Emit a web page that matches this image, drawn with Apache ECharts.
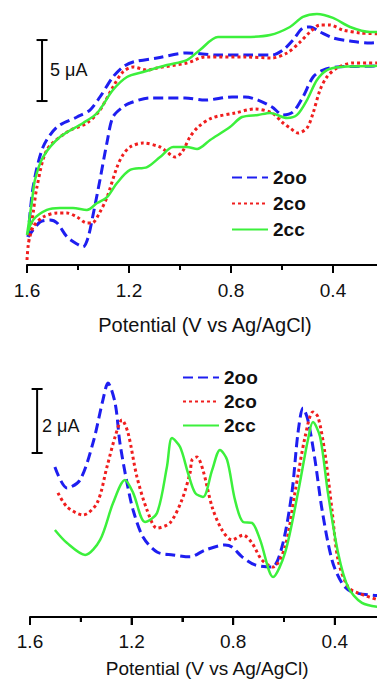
<!DOCTYPE html>
<html>
<head>
<meta charset="utf-8">
<script src="https://cdn.jsdelivr.net/npm/echarts@6/dist/echarts.min.js"></script>
<style>
  html, body { margin: 0; padding: 0; background: #fff; }
  #main { width: 377px; height: 682px; }
</style>
</head>
<body>
<div id="main"></div>
<script>
// potential (V vs Ag/AgCl), current (uA)
const seriesNames = ['2oo', '2co', '2cc']
const tickLabels = [1.6, 1.2, 0.8, 0.4]
const minorTicks = [1.4, 1.0, 0.6]

// cyclic voltammograms: forward branch then return branch
const cv2oo = [
  [1.596, 2.30], [1.576, 6.39], [1.537, 9.67], [1.482, 11.31], [1.404, 12.13], [1.353, 12.70],
  [1.314, 13.77], [1.263, 15.41], [1.224, 16.23], [1.184, 16.64], [1.090, 16.97], [0.973, 17.38],
  [0.851, 17.21], [0.745, 17.21], [0.639, 17.21], [0.596, 17.62], [0.557, 18.44], [0.518, 19.43],
  [0.490, 19.51], [0.451, 19.10], [0.400, 18.61], [0.333, 18.36], [0.255, 18.20], [0.215, 18.28],
  [0.215, 16.39], [0.384, 16.23], [0.439, 15.98], [0.478, 15.41], [0.518, 13.77], [0.557, 12.54],
  [0.596, 12.30], [0.639, 12.95], [0.694, 13.52], [0.745, 13.77], [0.796, 13.77], [0.902, 13.52],
  [0.980, 13.69], [1.118, 13.69], [1.196, 13.28], [1.224, 12.95], [1.263, 12.13], [1.286, 10.08],
  [1.314, 6.97], [1.341, 4.10], [1.361, 2.21], [1.380, 1.48], [1.404, 1.72], [1.443, 2.30],
  [1.482, 3.44], [1.510, 3.69], [1.549, 3.52], [1.596, 2.30]
]
const cv2co = [
  [1.600, 0.41], [1.596, 1.48], [1.588, 2.62], [1.576, 4.26], [1.561, 6.39], [1.522, 9.43],
  [1.443, 10.90], [1.365, 11.64], [1.314, 12.70], [1.263, 14.59], [1.224, 15.82], [1.184, 16.23],
  [1.129, 15.98], [1.090, 16.15], [0.973, 16.56], [0.902, 17.05], [0.745, 17.05], [0.639, 16.97],
  [0.580, 17.38], [0.529, 18.28], [0.490, 19.10], [0.451, 19.67], [0.412, 19.67], [0.361, 19.26],
  [0.294, 19.02], [0.215, 18.85],
  [0.215, 16.56], [0.322, 16.56], [0.384, 16.15], [0.424, 15.41], [0.451, 14.34], [0.478, 12.46],
  [0.502, 11.23], [0.537, 10.82], [0.569, 11.23], [0.596, 11.64], [0.639, 12.46], [0.706, 12.79],
  [0.784, 12.46], [0.875, 12.05], [0.929, 11.31], [0.961, 10.49], [0.992, 9.26], [1.020, 8.85],
  [1.051, 9.26], [1.078, 9.67], [1.145, 10.00], [1.196, 9.67], [1.224, 9.02], [1.247, 8.03],
  [1.286, 5.57], [1.314, 4.34], [1.345, 3.44], [1.365, 3.44], [1.404, 3.93], [1.443, 4.26],
  [1.482, 4.26], [1.537, 3.93], [1.576, 3.11], [1.596, 1.64]
]
const cv2cc = [
  [1.600, 2.46], [1.580, 5.33], [1.569, 6.97], [1.537, 8.85], [1.471, 10.49], [1.380, 11.64],
  [1.325, 12.46], [1.263, 14.34], [1.208, 15.41], [1.145, 15.82], [1.051, 16.39], [0.973, 16.80],
  [0.922, 17.62], [0.851, 18.69], [0.745, 18.69], [0.647, 18.85], [0.569, 19.51], [0.518, 20.33],
  [0.463, 20.57], [0.400, 20.25], [0.333, 19.51], [0.255, 19.10], [0.215, 19.10],
  [0.215, 16.39], [0.373, 16.23], [0.424, 15.98], [0.463, 15.16], [0.502, 13.52], [0.541, 12.30],
  [0.580, 12.05], [0.647, 12.46], [0.694, 12.30], [0.757, 12.13], [0.804, 11.31], [0.882, 10.25],
  [0.933, 9.51], [0.973, 9.67], [1.027, 9.67], [1.078, 8.85], [1.129, 8.03], [1.196, 7.79],
  [1.247, 6.72], [1.286, 5.57], [1.325, 5.08], [1.365, 4.51], [1.420, 4.67], [1.471, 4.67],
  [1.522, 4.51], [1.576, 3.69], [1.600, 2.46]
]

// differential pulse voltammograms
const dpv2oo = [
  [1.502, 4.69], [1.454, 4.03], [1.403, 4.28], [1.352, 5.44], [1.313, 6.78], [1.293, 7.31],
  [1.265, 6.69], [1.246, 5.44], [1.218, 4.19], [1.194, 3.34], [1.155, 2.50], [1.100, 2.03],
  [1.037, 1.94], [0.970, 1.88], [0.911, 2.09], [0.832, 2.25], [0.805, 2.19], [0.765, 1.88],
  [0.714, 1.63], [0.647, 1.56], [0.608, 2.19], [0.569, 3.88], [0.545, 5.75], [0.525, 6.53],
  [0.506, 6.16], [0.478, 4.91], [0.450, 3.34], [0.411, 1.78], [0.372, 1.06], [0.332, 0.78],
  [0.215, 0.66]
]
const dpv2co = [
  [1.490, 3.88], [1.454, 3.44], [1.391, 3.19], [1.336, 3.56], [1.297, 4.69], [1.265, 5.63],
  [1.238, 6.16], [1.214, 5.75], [1.179, 4.38], [1.139, 3.34], [1.100, 2.78], [1.049, 2.94],
  [1.002, 3.66], [0.970, 4.50], [0.962, 4.91], [0.943, 5.00], [0.919, 4.59], [0.883, 3.44],
  [0.844, 2.72], [0.805, 2.41], [0.761, 2.56], [0.726, 2.31], [0.687, 1.78], [0.643, 1.56],
  [0.596, 2.19], [0.557, 3.88], [0.517, 5.63], [0.486, 6.41], [0.466, 6.25], [0.439, 5.13],
  [0.411, 3.34], [0.387, 1.78], [0.348, 0.94], [0.309, 0.75], [0.215, 0.50]
]
const dpv2cc = [
  [1.502, 2.72], [1.454, 2.31], [1.383, 1.94], [1.324, 2.41], [1.273, 3.56], [1.226, 4.28],
  [1.194, 3.88], [1.147, 2.97], [1.100, 3.25], [1.061, 4.69], [1.041, 5.59], [1.009, 5.31],
  [0.978, 4.50], [0.950, 3.88], [0.919, 3.75], [0.883, 4.59], [0.852, 5.22], [0.824, 4.91],
  [0.793, 3.66], [0.761, 2.97], [0.726, 2.94], [0.694, 2.41], [0.643, 1.25], [0.596, 2.00],
  [0.545, 3.88], [0.506, 5.53], [0.486, 6.09], [0.458, 5.63], [0.427, 3.88], [0.387, 2.00],
  [0.348, 0.94], [0.293, 0.44], [0.215, 0.30]
]

// scale bars: [potential, current] of the two ends
const scaleBarCV = [[1.541, 13.44], [1.541, 18.44]]   // 5 uA
const scaleBarDPV = [[1.572, 5.125], [1.572, 7.125]]  // 2 uA

const font = "'Liberation Sans', Arial, sans-serif"
const colors = ['#1e1ef0', '#f01e1e', '#3cf03c']
const lineTypes = [[10, 5], [3, 3], 'solid']
const lineWidths = [3, 3, 2.5]

const chart = echarts.init(document.getElementById('main'), null, { renderer: 'svg' })

function curve(name, idx, data, axis) {
  return {
    name: name,
    type: 'line',
    xAxisIndex: axis,
    yAxisIndex: axis,
    data: data,
    symbol: 'none',
    showSymbol: false,
    smooth: 0.3,
    silent: true,
    lineStyle: { color: colors[idx], width: lineWidths[idx], type: lineTypes[idx], cap: 'butt' },
    itemStyle: { color: colors[idx] }
  }
}

function scaleBar(data, axis) {
  return {
    name: 'scale' + axis,
    type: 'line',
    xAxisIndex: axis,
    yAxisIndex: axis,
    data: data,
    symbol: 'rect',
    symbolSize: [11, 2],
    showSymbol: true,
    silent: true,
    lineStyle: { color: '#000', width: 2 },
    itemStyle: { color: '#000' }
  }
}

// tick marks hanging below the potential axis, placed by the x scale
function tickMarks(axis) {
  return {
    name: 'ticks' + axis,
    type: 'custom',
    xAxisIndex: axis,
    yAxisIndex: axis,
    silent: true,
    clip: false,
    z: 5,
    data: tickLabels.concat(minorTicks),
    renderItem: (params, api) => {
      const v = api.value(0)
      const p = api.coord([v, 0])
      const len = tickLabels.some(t => Math.abs(t - v) < 1e-6) ? 8 : 5
      return {
        type: 'line',
        shape: { x1: p[0], y1: p[1], x2: p[0], y2: p[1] + len },
        style: { stroke: '#000', lineWidth: 2 }
      }
    }
  }
}

// potential axis runs 1.6 -> 0 and is cut by the right edge of the page
function potentialAxis(gridIndex, labelMargin, nameGap, fontSize) {
  return {
    gridIndex: gridIndex,
    type: 'value',
    inverse: true,
    min: 0,
    max: 1.6,
    interval: 0.4,
    name: 'Potential (V vs Ag/AgCl)',
    nameLocation: 'middle',
    nameGap: nameGap,
    nameTextStyle: { fontFamily: font, fontSize: fontSize, color: '#111', padding: [0, 52, 0, 0] },
    axisLine: { show: true, onZero: false, lineStyle: { color: '#000', width: 2 } },
    axisTick: { show: true, length: 8, lineStyle: { color: '#000', width: 2 } },
    minorTick: { show: true, splitNumber: 2, length: 5, lineStyle: { color: '#000', width: 2 } },
    splitLine: { show: false },
    minorSplitLine: { show: false },
    axisLabel: {
      margin: labelMargin,
      fontFamily: font,
      fontSize: 19,
      color: '#111',
      formatter: (v) => tickLabels.some(t => Math.abs(t - v) < 1e-6) ? v.toFixed(1) : ''
    }
  }
}

function legendAt(left, top, gap) {
  return {
    data: seriesNames,
    orient: 'vertical',
    left: left,
    top: top,
    itemWidth: 36,
    itemHeight: 20,
    itemGap: gap,
    selectedMode: false,
    itemStyle: { opacity: 0 },
    textStyle: { fontFamily: font, fontSize: 19, fontWeight: 'bold', color: '#111' }
  }
}

const options = {
  animation: false,
  grid: [
    { left: 27, top: 8.8, width: 408, height: 256.2, outerBoundsMode: 'none' },
    { left: 30, top: 361, width: 406.4, height: 256, outerBoundsMode: 'none' }
  ],
  xAxis: [potentialAxis(0, 16, 50, 20), potentialAxis(1, 15, 42, 19)],
  yAxis: [
    { gridIndex: 0, type: 'value', min: 0, max: 21, show: false },
    { gridIndex: 1, type: 'value', min: 0, max: 8, show: false }
  ],
  legend: [legendAt(226, 163, 7), legendAt(177, 363, 5)],
  graphic: [
    { type: 'text', left: 50, top: 61, style: { text: '5 μA', fontFamily: font, fontSize: 18, fill: '#111' } },
    { type: 'text', left: 42, top: 417, style: { text: '2 μA', fontFamily: font, fontSize: 18, fill: '#111' } }
  ],
  series: [
    curve('2oo', 0, cv2oo, 0),
    curve('2co', 1, cv2co, 0),
    curve('2cc', 2, cv2cc, 0),
    curve('2oo', 0, dpv2oo, 1),
    curve('2co', 1, dpv2co, 1),
    curve('2cc', 2, dpv2cc, 1),
    scaleBar(scaleBarCV, 0),
    scaleBar(scaleBarDPV, 1),
    tickMarks(0),
    tickMarks(1)
  ]
}
chart.setOption(options)
</script>
</body>
</html>
